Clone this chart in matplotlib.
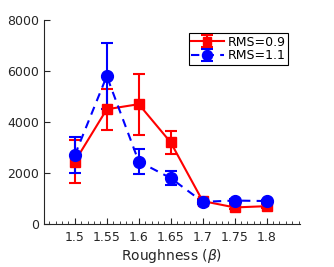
import matplotlib
matplotlib.use("Agg")
import matplotlib.pyplot as plt
from matplotlib.ticker import MultipleLocator

roughness = [1.5, 1.55, 1.6, 1.65, 1.7, 1.75, 1.8]

rms09 = [2450, 4500, 4700, 3200, 900, 650, 700]
rms09_err = [850, 800, 1200, 450, 100, 80, 80]

rms11 = [2700, 5800, 2450, 1800, 870, 920, 900]
rms11_err = [700, 1300, 480, 260, 80, 80, 60]

tick_labels = ["1.5", "1.55", "1.6", "1.65", "1.7", "1.75", "1.8"]

plt.rcParams['font.family'] = ['DejaVu Sans']
txt = '#262626'

fig = plt.figure(figsize=(3.34, 2.67), dpi=100)
ax = fig.add_axes([0.132, 0.161, 0.766, 0.764])

ax.errorbar(roughness, rms09, yerr=rms09_err, color='red', marker='s',
            markersize=7.5, linestyle='-', linewidth=1.5, capsize=4,
            elinewidth=1.5, capthick=1.5, label='RMS=0.9')
ax.errorbar(roughness, rms11, yerr=rms11_err, color='blue', marker='o',
            markersize=8.5, linestyle='--', linewidth=1.5, capsize=4,
            elinewidth=1.5, capthick=1.5, label='RMS=1.1', dashes=(4, 3))

ax.set_xlim(1.452, 1.852)
ax.set_ylim(0, 8000)
ax.set_xticks(roughness)
ax.set_xticklabels(tick_labels)
ax.set_yticks([0, 2000, 4000, 6000, 8000])
ax.xaxis.set_minor_locator(MultipleLocator(0.01))
ax.tick_params(direction='in', which='both', colors=txt, labelsize=9,
               top=False, right=False)
ax.tick_params(which='major', length=4)
ax.tick_params(which='minor', length=2)
ax.tick_params(axis='x', pad=5)
ax.spines['top'].set_visible(False)
ax.spines['right'].set_visible(False)
ax.spines['left'].set_color(txt)
ax.spines['bottom'].set_color(txt)
ax.set_xlabel(r'Roughness ($\beta$)', fontsize=10, color=txt, labelpad=2)

leg = ax.legend(loc='upper right', bbox_to_anchor=(0.953, 0.936), fontsize=9,
                fancybox=False, edgecolor='black', framealpha=1,
                handlelength=2.6, borderpad=0.2, labelspacing=0.05,
                handletextpad=0.3, borderaxespad=0, markerscale=0.85)
leg.get_frame().set_linewidth(0.8)

fig.savefig('out.png', dpi=100)
